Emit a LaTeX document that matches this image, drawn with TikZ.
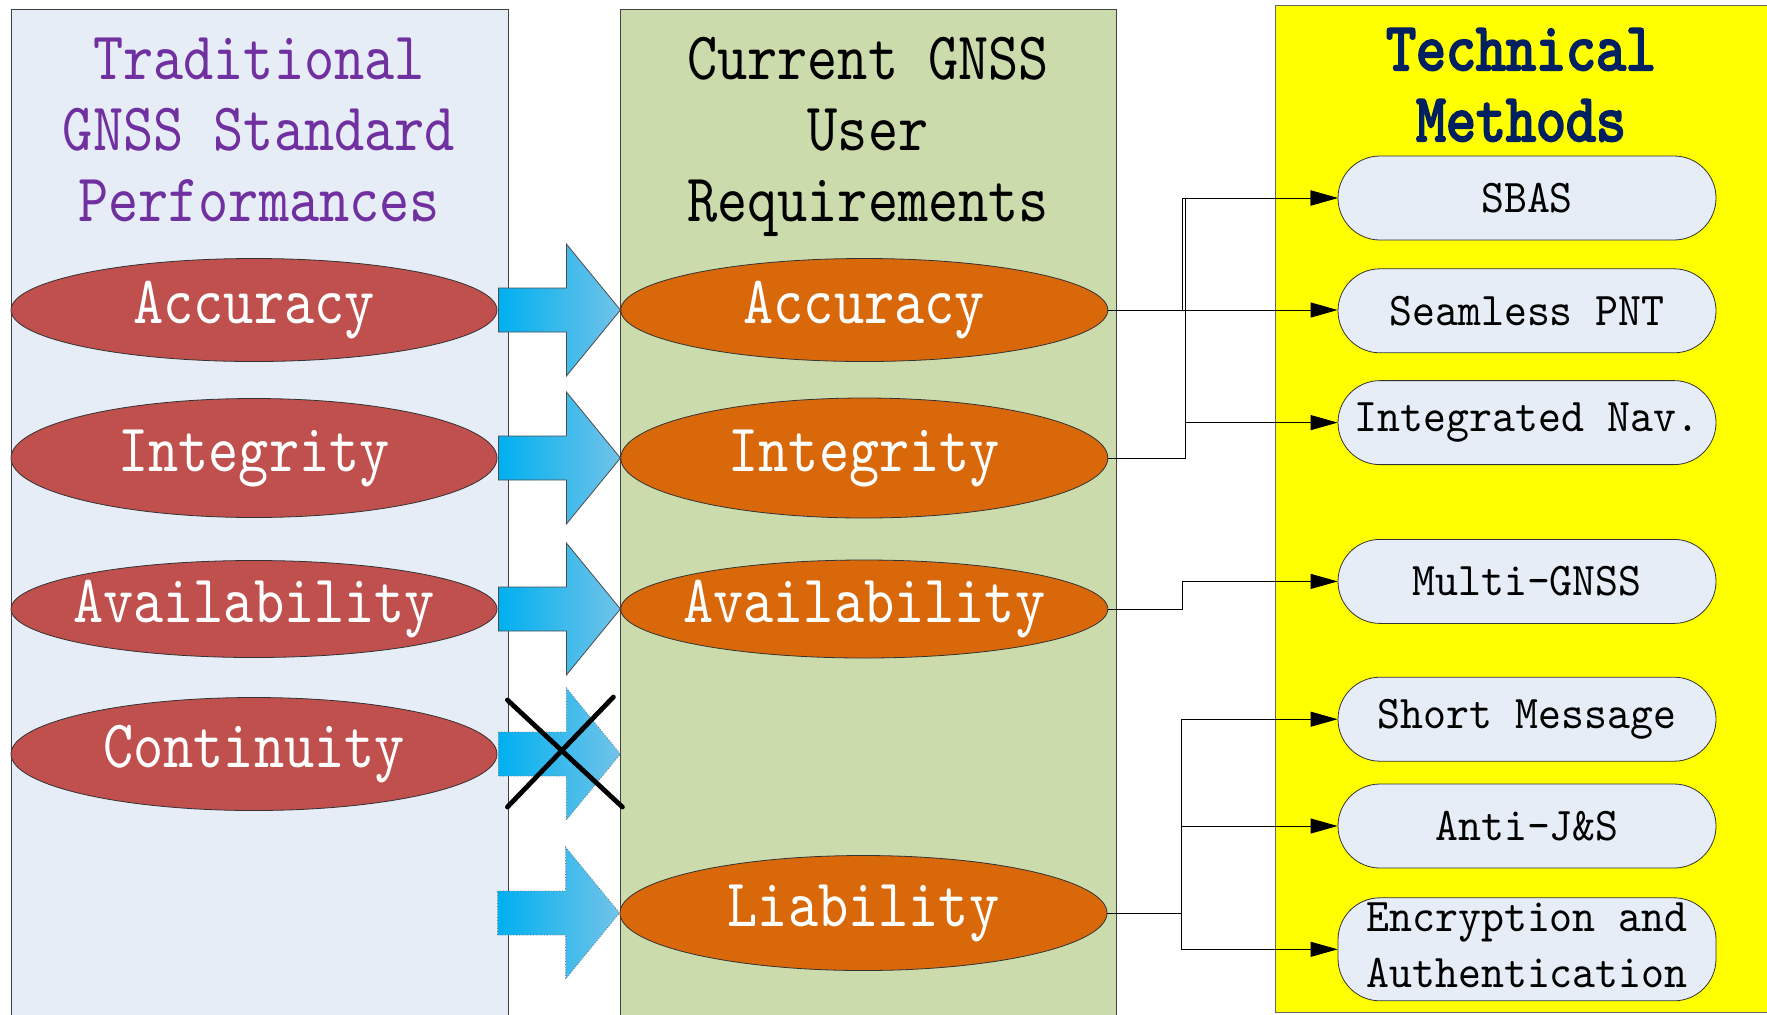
\documentclass[tikz,border=0pt]{standalone}
\usepackage{fontspec}
\setmainfont{lmmono10-regular.otf}[FakeStretch=0.845]
\newfontfamily\headbold{lmmono10-regular.otf}[FakeStretch=0.84, FakeBold=3]
\newfontfamily\methodfont{lmmono10-regular.otf}[FakeStretch=0.93]
\usetikzlibrary{shapes.geometric, arrows.meta, positioning, calc}

\definecolor{paleblue}{HTML}{E6EDF7}
\definecolor{olivebg}{HTML}{CCDBAB}
\definecolor{brightyellow}{HTML}{FFFF00}
\definecolor{tradred}{HTML}{C0504D}
\definecolor{reqorange}{HTML}{D9680B}
\definecolor{titlepurple}{HTML}{7030A0}
\definecolor{titlenavy}{HTML}{002060}
\definecolor{arrowcyan}{HTML}{00B0F0}
\definecolor{arrowsky}{HTML}{72C3E8}

% centred label that does not widen the ellipse
\newcommand{\lbl}[1]{\makebox[0pt]{#1}}
% fat arrow from a tail point to a tip point on the same height
\newcommand{\blockarrow}[3]{%
  \path[#3] ($(#1)+(1,-22)$) -- ($(#1)+(69,-22)$) -- ($(#1)+(69,-66)$) -- (#2)
    -- ($(#1)+(69,66)$) -- ($(#1)+(69,22)$) -- ($(#1)+(1,22)$) -- cycle;}

\begin{document}
\begin{tikzpicture}[x=0.5pt, y=-0.5pt, node distance=14pt]
    % Node Styles
    \tikzstyle{panel} = [rectangle, draw=black!75, line width=0.7pt, anchor=north west, inner sep=0pt]
    \tikzstyle{title} = [align=center, font=\fontsize{34pt}{35.5pt}\selectfont, inner sep=0pt, anchor=base]
    \tikzstyle{trad} = [ellipse, draw=black!80, fill=tradred, text=white, minimum width=243pt, inner sep=0pt, font=\fontsize{34pt}{36pt}\selectfont]
    \tikzstyle{req} = [trad, fill=reqorange, minimum width=243.5pt]
    \tikzstyle{method} = [rectangle, rounded corners=21pt, draw=black!80, fill=paleblue, minimum width=189pt, minimum height=42pt, inner sep=0pt, align=center, font=\methodfont\fontsize{23.5pt}{28pt}\selectfont]
    \tikzstyle{line} = [draw, -{Triangle[length=13.5pt, width=7.5pt]}, line width=0.5pt]
    \tikzstyle{bigarrow} = [shade, left color=arrowcyan, right color=arrowsky, draw=black!70, line width=0.4pt]
    \tikzstyle{lostarrow} = [bigarrow, draw=black!55, densely dotted]

    \useasboundingbox (0,0) rectangle (1767,1014);

    % --- COLUMNS ---
    \node [panel, fill=paleblue, minimum width=248.5pt, minimum height=512pt] (tradbox) at (11,9) {};
    \node [panel, fill=olivebg, minimum width=248pt, minimum height=512pt] (reqbox) at (620,9) {};
    \node [panel, fill=brightyellow, draw=black!60, minimum width=252pt, minimum height=503.5pt] (methbox) at (1275,5) {};

    % titles sit on the baseline of their last line
    \node [title, text=titlepurple] (tradtitle) at (259,221) {Traditional\\GNSS Standard\\Performances};
    \node [title] (reqtitle) at (868,221) {Current GNSS\\User\\Requirements};
    \node [title, text=titlenavy, font=\headbold\fontsize{34pt}{35.5pt}\selectfont] (methtitle) at (1521,141) {Technical\\Methods};

    % --- LEFT: STANDARD PERFORMANCES ---
    \node [trad, minimum height=51.5pt] (acc1) at (254,310) {\lbl{Accuracy}};
    \node [trad, minimum height=59.5pt] (int1) at (254,458) {\lbl{Integrity}};
    \node [trad, minimum height=48.5pt] (avl1) at (254,609) {\lbl{Availability}};
    \node [trad, minimum height=56.5pt] (con1) at (254,754) {\lbl{Continuity}};

    % --- MIDDLE: USER REQUIREMENTS ---
    \node [req, minimum height=51.5pt, right=61.5pt of acc1] (acc2) {\lbl{Accuracy}};
    \node [req, minimum height=60pt, right=61.5pt of int1] (int2) {\lbl{Integrity}};
    \node [req, minimum height=49pt, right=61.5pt of avl1] (avl2) {\lbl{Availability}};
    \node [req, minimum height=57.5pt] (lia2) at (863.5,913) {\lbl{Liability}};

    % --- RIGHT: METHODS ---
    \node [method] (sbas) at (1527,198) {SBAS};
    \node [method, below=14pt of sbas] (pnt) {Seamless PNT};
    \node [method, below=13.5pt of pnt] (inav) {Integrated Nav.};
    \node [method, below=37pt of inav] (mgnss) {Multi-GNSS};
    \node [method, below=26.5pt of mgnss] (sms) {Short Message};
    \node [method, below=11pt of sms] (antijs) {Anti-J\&S};
    \node [method, minimum height=51.5pt, text height=45pt, text depth=6.5pt, below=14.5pt of antijs] (crypt) {Encryption and\\Authentication};

    % --- FAT ARROWS ---
    \coordinate [right=61.5pt of con1] (contip);
    \coordinate [left=61.5pt of lia2] (liatail);
    \blockarrow{acc1.east}{acc2.west}{bigarrow}
    \blockarrow{int1.east}{int2.west}{bigarrow}
    \blockarrow{avl1.east}{avl2.west}{bigarrow}
    \blockarrow{con1.east}{contip}{lostarrow}
    \blockarrow{liatail}{lia2.west}{lostarrow}
    \draw [line width=2.4pt, line cap=round] ($(contip)+(-113,-54)$) -- ($(contip)+(2,53)$);
    \draw [line width=2.4pt, line cap=round] ($(contip)+(-113,53)$) -- ($(contip)+(-7,-57)$);

    % --- PATHS ---
    \path [line] (acc2.east) -- (acc2.east -| pnt.west);
    \path [line] (acc2.east) -- ++(74,0) |- (sbas.west);
    \path [line] (int2.east) -- ++(77,0) |- (sbas.west);
    \path [line] (int2.east) -- ++(77,0) |- (inav.west);
    \path [line] (avl2.east) -- ++(74,0) |- (mgnss.west);
    \path [line] (lia2.east) -- ++(74,0) |- (sms.west);
    \path [line] (lia2.east) -- ++(74,0) |- (antijs.west);
    \path [line] (lia2.east) -- ++(74,0) |- (crypt.west);

\end{tikzpicture}
\end{document}
